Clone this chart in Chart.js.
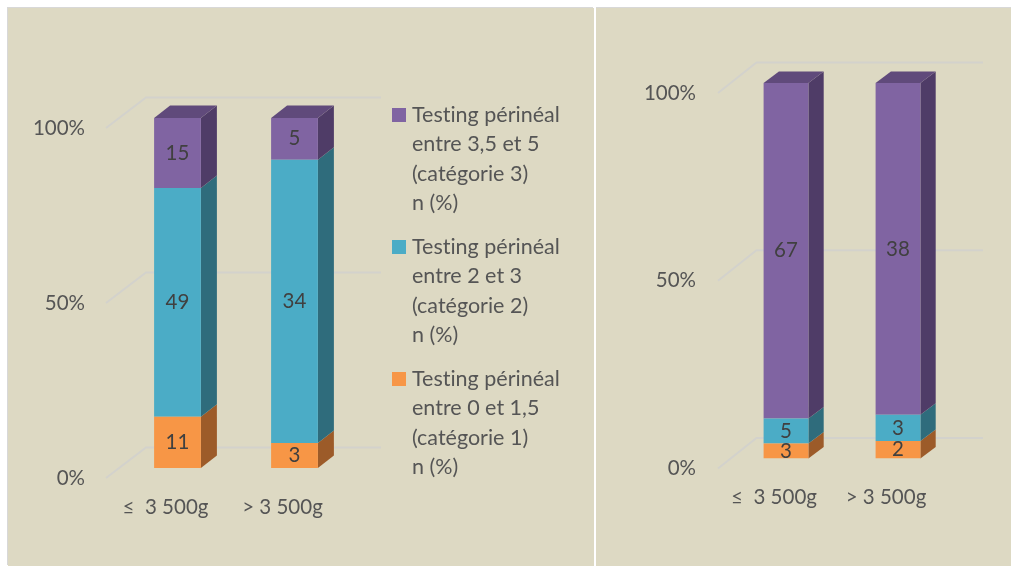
<!DOCTYPE html>
<html><head><meta charset="utf-8">
<script src="https://cdn.jsdelivr.net/npm/chart.js@4.4.1/dist/chart.umd.min.js"></script>
<style>
html,body{margin:0;padding:0;background:#fff;width:1011px;height:566px;overflow:hidden;font-family:Lato,sans-serif}
.panel{position:absolute;background:#ddd9c3}
#p1{left:8px;top:8px;width:586px;height:558px;box-shadow:-1px -1px 0 #d8d8d8}
#p2{left:596px;top:8px;width:415px;height:558px;box-shadow:0 -1px 0 #d8d8d8}
canvas{position:absolute;left:0;top:0}
#legend{position:absolute;left:384px;top:92px;color:#555;font-size:21.5px;line-height:29.3px;font-variant-ligatures:none;white-space:nowrap}
.entry{position:relative;padding-left:20px;height:117.2px;margin-bottom:14.8px}
.sw{position:absolute;left:0;top:8px;width:14px;height:14px}
</style></head>
<body>
<div class="panel" id="p1"><canvas id="c1" width="586" height="558"></canvas><div id="legend"></div></div>
<div class="panel" id="p2"><canvas id="c2" width="415" height="558"></canvas></div>
<script>
// ---- data ----
const categories = ['≤  3 500g', '> 3 500g'];
const seriesLegend = [
  ['Testing périnéal', 'entre 0 et 1,5', '(catégorie 1)', 'n (%)'],
  ['Testing périnéal', 'entre 2 et 3', '(catégorie 2)', 'n (%)'],
  ['Testing périnéal', 'entre 3,5 et 5', '(catégorie 3)', 'n (%)']
];
const leftCat1 = [11, 3];
const leftCat2 = [49, 34];
const leftCat3 = [15, 5];
const rightCat1 = [3, 2];
const rightCat2 = [5, 3];
const rightCat3 = [67, 38];
const yTicks = [0, 50, 100];

// ---- styles ----
const frontColors = ['#f79646', '#4bacc6', '#8064a2'];
const sideColors = ['#9c5b29', '#2f6c7c', '#4f3c67'];
const topColors = ['#b86e33', '#3a8a9e', '#604a7b'];
const FONT = {family: 'Lato, sans-serif', size: 20.5};

function pct(series) {
  const totals = series[0].map((_, j) => series.reduce((s, a) => s + a[j], 0));
  return series.map(a => a.map((v, j) => v / totals[j] * 100));
}

const threeD = {
  id: 'threeD',
  beforeDatasetsDraw(chart, args, o) {
    const {ctx, chartArea: a, scales: {y}} = chart;
    ctx.save();
    ctx.strokeStyle = '#d3d2cc';
    ctx.lineWidth = 2;
    y.ticks.forEach(t => {
      const py = y.getPixelForValue(t.value);
      ctx.beginPath();
      ctx.moveTo(a.left + o.gx0, py + 10);
      ctx.lineTo(a.left + o.gx1, py - 20.5);
      ctx.lineTo(a.right + o.gx2, py - 20.5);
      ctx.stroke();
    });
    const n = chart.data.datasets.length;
    chart.data.datasets.forEach((ds, i) => {
      chart.getDatasetMeta(i).data.forEach(el => {
        const l = el.x - el.width / 2, r = el.x + el.width / 2, top = el.y, bot = el.base;
        ctx.fillStyle = sideColors[i];
        ctx.beginPath();
        ctx.moveTo(r, top); ctx.lineTo(r + o.dx, top + o.dy);
        ctx.lineTo(r + o.dx, bot + o.dy); ctx.lineTo(r, bot);
        ctx.closePath(); ctx.fill();
        if (i === n - 1) {
          ctx.fillStyle = topColors[i];
          ctx.beginPath();
          ctx.moveTo(l, top); ctx.lineTo(l + o.dx, top + o.dy);
          ctx.lineTo(r + o.dx, top + o.dy); ctx.lineTo(r, top);
          ctx.closePath(); ctx.fill();
        }
      });
    });
    ctx.restore();
  },
  afterDatasetsDraw(chart) {
    const {ctx} = chart;
    ctx.save();
    ctx.font = FONT.size + 'px ' + FONT.family;
    ctx.fillStyle = '#404040';
    ctx.textAlign = 'center';
    ctx.textBaseline = 'middle';
    chart.data.datasets.forEach((ds, i) => {
      chart.getDatasetMeta(i).data.forEach((el, j) => {
        ctx.fillText(String(ds.counts[j]), el.x, (el.y + el.base) / 2);
      });
    });
    ctx.restore();
  }
};

function makeChart(id, series, cfg) {
  const p = pct(series);
  return new Chart(document.getElementById(id), {
    type: 'bar',
    data: {
      labels: categories,
      datasets: series.map((s, i) => ({
        label: seriesLegend[i].join(' '),
        data: p[i],
        counts: s,
        backgroundColor: frontColors[i],
        borderWidth: 0,
        barPercentage: 0.5,
        categoryPercentage: 0.8
      }))
    },
    options: {
      responsive: false, animation: false, devicePixelRatio: 1,
      layout: {padding: {top: cfg.top, right: cfg.right, bottom: cfg.bottom, left: 0}},
      plugins: {legend: {display: false}, tooltip: {enabled: false}, threeD: cfg.d3},
      scales: {
        x: {
          stacked: true,
          grid: {display: false, drawTicks: false}, border: {display: false},
          ticks: {color: '#555', font: FONT, padding: 27, labelOffset: -12, maxRotation: 0, autoSkip: false},
          afterFit(s) { s.height = 60; }
        },
        y: {
          stacked: true, min: 0, max: 100,
          grid: {display: false, drawTicks: false}, border: {display: false},
          afterBuildTicks(s) { s.ticks = yTicks.map(v => ({value: v})); },
          ticks: {color: '#555', font: FONT, padding: 34, labelOffset: 10, callback: v => v + '%'},
          afterFit(s) { s.width = cfg.yw; }
        }
      }
    },
    plugins: [threeD]
  });
}

function buildLegend() {
  const lg = document.getElementById('legend');
  [2, 1, 0].forEach(i => {
    const e = document.createElement('div');
    e.className = 'entry';
    const sw = document.createElement('div');
    sw.className = 'sw';
    sw.style.background = frontColors[i];
    e.appendChild(sw);
    seriesLegend[i].forEach(line => {
      const d = document.createElement('div');
      d.textContent = line;
      e.appendChild(d);
    });
    lg.appendChild(e);
  });
}

function init() {
  buildLegend();
  makeChart('c1', [leftCat1, leftCat2, leftCat3],
    {top: 110, right: 241, bottom: 38, yw: 111, d3: {dx: 16, dy: -12.5, gx0: -13, gx1: 27, gx2: 28}});
  makeChart('c2', [rightCat1, rightCat2, rightCat3],
    {top: 75, right: 57, bottom: 47.5, yw: 134, d3: {dx: 15.3, dy: -11.5, gx0: -12, gx1: 26.5, gx2: 29}});
}
if (document.fonts && document.fonts.load) {
  document.fonts.load('20px Lato').then(init, init);
} else init();
</script>
</body></html>
